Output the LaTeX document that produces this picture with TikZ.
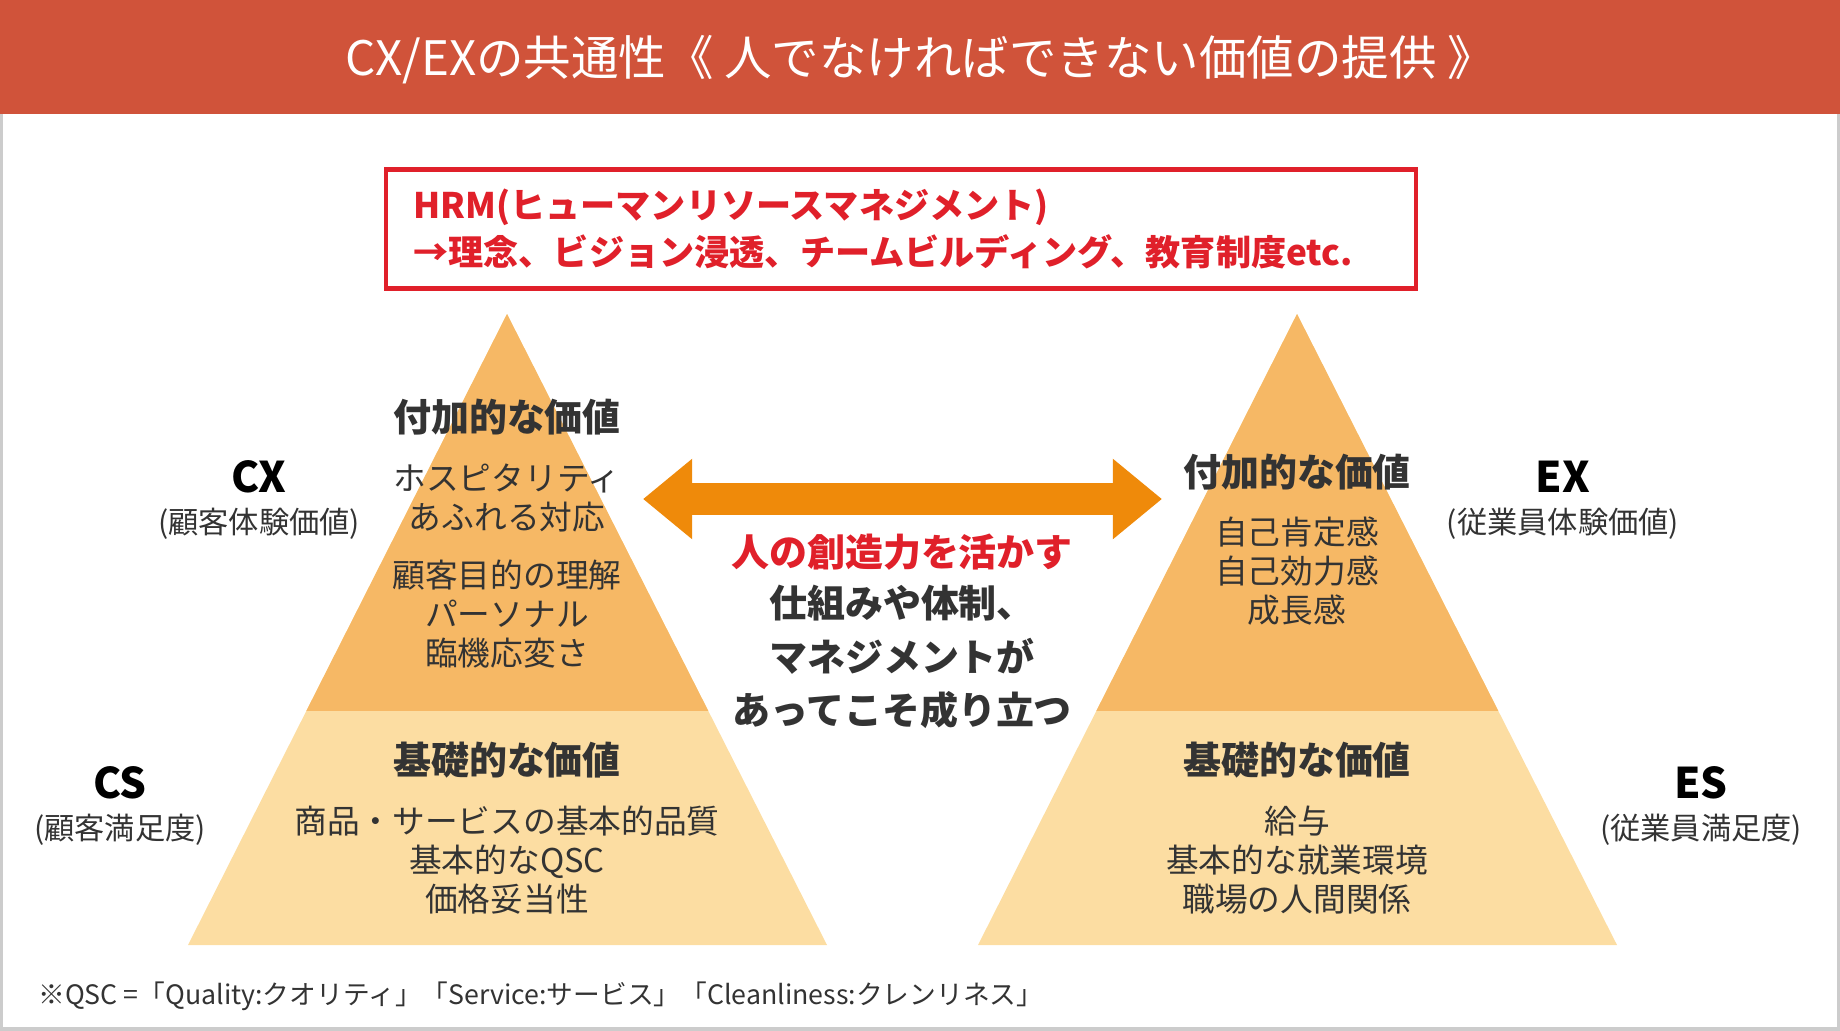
\documentclass[tikz,border=0pt]{standalone}
\usepackage{fontspec}
\setmainfont{Noto Sans CJK JP}
\usetikzlibrary{calc,arrows.meta}
\definecolor{headred}{HTML}{D0533A}
\definecolor{boxred}{HTML}{E0202A}
\definecolor{topfill}{HTML}{F6B865}
\definecolor{lowfill}{HTML}{FCDDA2}
\definecolor{arroworange}{HTML}{EF8A0A}
\definecolor{textgray}{HTML}{333333}
\tikzset{
  heading/.style={font=\fontsize{10.8}{13}\selectfont\bfseries, text=textgray},
  body/.style={font=\fontsize{9.3}{11.2}\selectfont, text=textgray, align=center},
  tag/.style={font=\fontsize{12}{14}\selectfont\bfseries, text=black},
  subtag/.style={font=\fontsize{8.6}{10}\selectfont, text=textgray},
}
\newcommand{\pyramid}[2]{%
  \coordinate (#1apex) at (#2,314);
  \coordinate (#1bl) at ($(#2,945)+(-319,0)$);
  \coordinate (#1br) at ($(#2,945)+(320,0)$);
  \fill[lowfill] (#1apex) -- (#1bl) -- (#1br) -- cycle;
  \fill[topfill] (#1apex) -- ($(#1apex)!0.629!(#1bl)$) -- ($(#1apex)!0.629!(#1br)$) -- cycle;
}
\begin{document}
\begin{tikzpicture}[x=0.01cm,y=-0.01cm]
\useasboundingbox (0,0) rectangle (1840,1030);
\draw[gray!40, line width=1pt] (1,1) rectangle (1839,1029);
% header
\fill[headred] (0,0) rectangle (1840,114);
\node[text=white, font=\fontsize{13.5}{16}\selectfont] (title) at (920,60)
  {CX/EXの共通性《 人でなければできない価値の提供 》};
% HRM box
\node[draw=boxred, line width=1.2pt, text=boxred, minimum width=1029\pgflinewidth,
  font=\fontsize{10}{13.5}\selectfont\bfseries, align=left, inner sep=0pt,
  minimum width=10.29cm, minimum height=1.19cm, text width=9.75cm] (hrm) at (901,229)
  {HRM(ヒューマンリソースマネジメント)\\→理念、ビジョン浸透、チームビルディング、教育制度etc.};
% pyramids
\pyramid{l}{507}
\pyramid{r}{1297}
% left pyramid texts
\node[heading] (laddh) at (507,417) {付加的な価値};
\node[body] (ladd) at (507,498) {ホスピタリティ\\あふれる対応};
\node[body] (ladd2) at (507,614) {顧客目的の理解\\パーソナル\\臨機応変さ};
\node[heading] (lbash) at (507,760) {基礎的な価値};
\node[body] (lbas) at (507,860) {商品・サービスの基本的品質\\基本的なQSC\\価格妥当性};
% right pyramid texts
\node[heading] (raddh) at (1297,472) {付加的な価値};
\node[body] (radd) at (1297,571) {自己肯定感\\自己効力感\\成長感};
\node[heading] (rbash) at (1297,760) {基礎的な価値};
\node[body] (rbas) at (1297,860) {給与\\基本的な就業環境\\職場の人間関係};
% side labels
\node[tag] (cx) at (259,477) {CX};
\node[subtag] (cxs) at (259,524) {(顧客体験価値)};
\node[tag] (cs) at (120,783) {CS};
\node[subtag] (css) at (120,830) {(顧客満足度)};
\node[tag] (ex) at (1563,477) {EX};
\node[subtag] (exs) at (1563,524) {(従業員体験価値)};
\node[tag] (es) at (1701,783) {ES};
\node[subtag] (ess) at (1701,830) {(従業員満足度)};
% centre arrow and text
\coordinate (aleft) at (643,499);
\coordinate (aright) at (1162,499);
\draw[arroworange, line width=9pt, {Triangle[width=22pt,length=14pt]}-{Triangle[width=22pt,length=14pt]}] (aleft) -- (aright);
\node[text=boxred, font=\fontsize{10.8}{13}\selectfont\bfseries] (mid1) at (902,552) {人の創造力を活かす};
\node[body, font=\fontsize{10.8}{15.3}\selectfont\bfseries] (mid2) at (902,657)
  {仕組みや体制、\\マネジメントが\\あってこそ成り立つ};
% footnote
\node[anchor=west, text=textgray, font=\fontsize{7.6}{9}\selectfont] (note) at (26,996)
  {※QSC =「Quality:クオリティ」「Service:サービス」「Cleanliness:クレンリネス」};
\end{tikzpicture}
\end{document}
